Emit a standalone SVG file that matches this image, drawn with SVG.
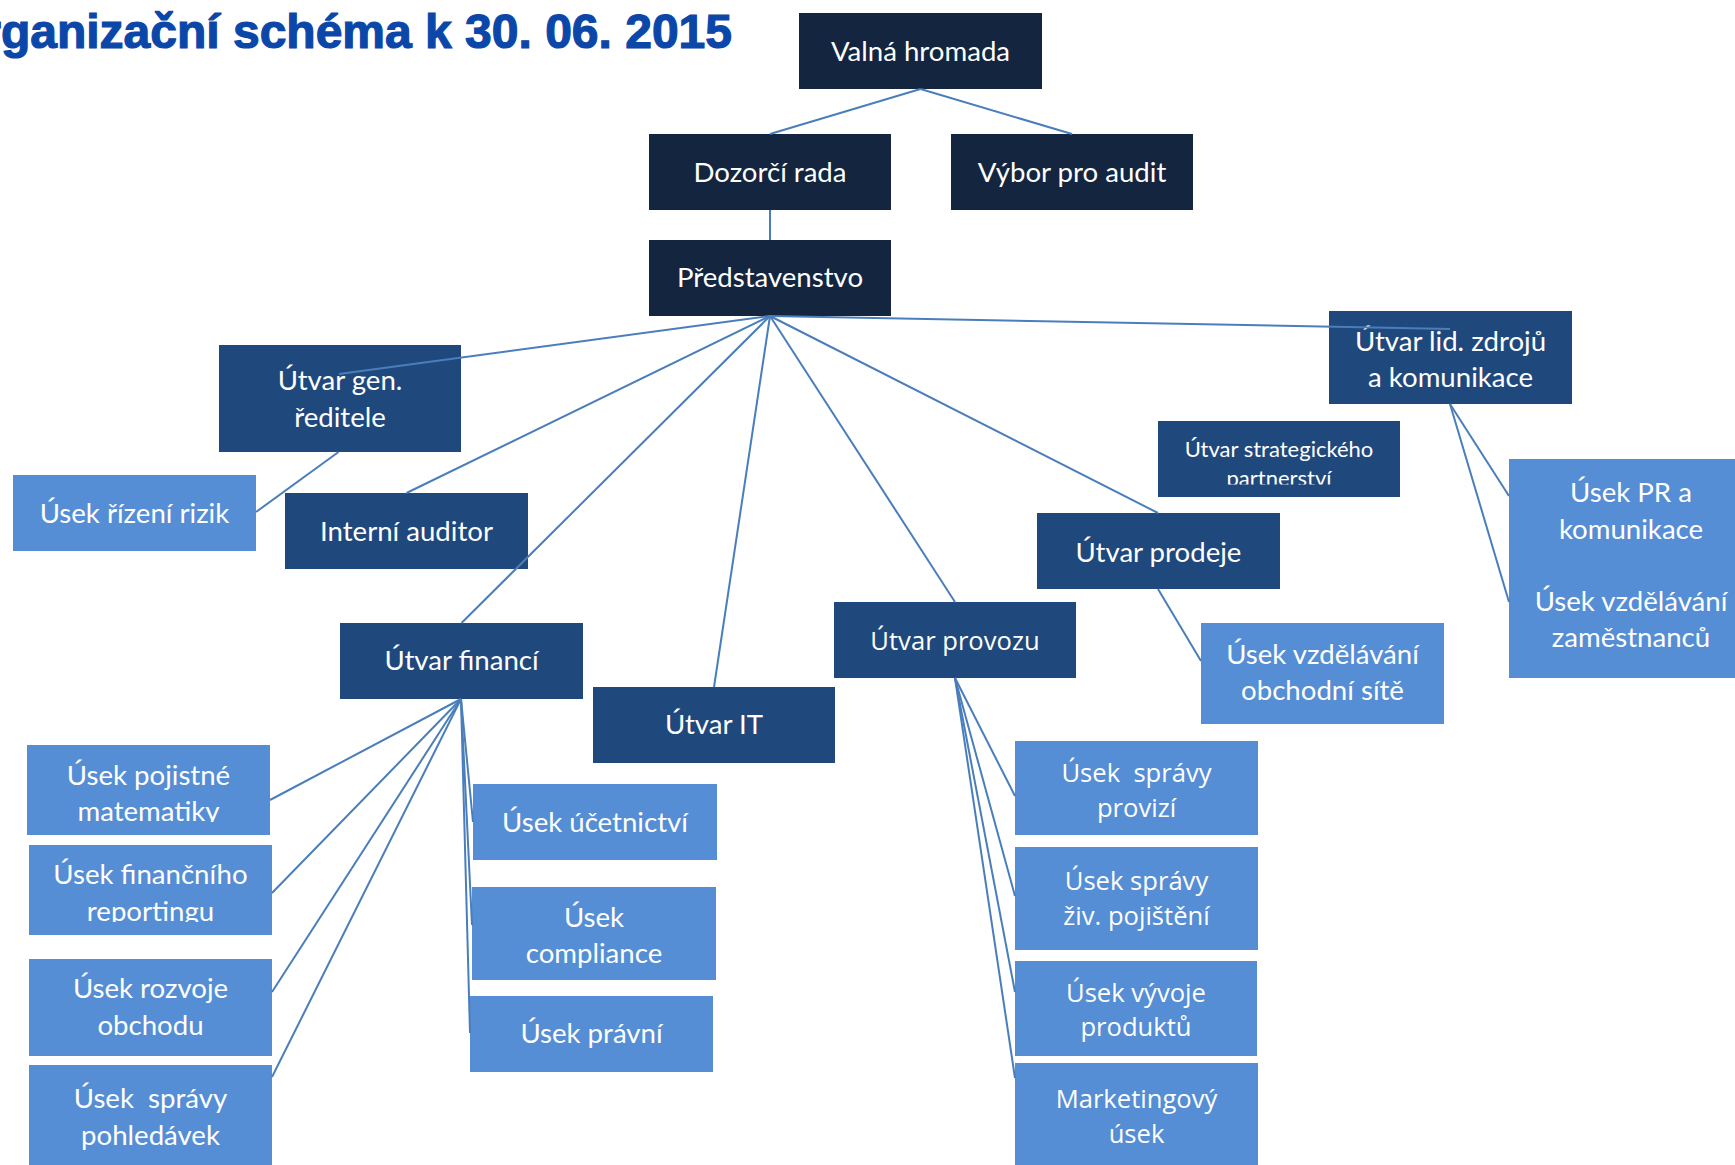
<svg xmlns="http://www.w3.org/2000/svg" width="1735" height="1165" viewBox="0 0 1735 1165">
<style>
.top{fill:#14253f}
.mid{fill:#1f497d}
.lt{fill:#558ed5}
.c{font-family:Lato,"Liberation Sans",sans-serif;font-size:27.6px;fill:#fff;text-anchor:middle}
.s{font-family:"Open Sans","Liberation Sans",sans-serif;font-size:25.6px;fill:#fff;text-anchor:middle}
.c.sm{font-size:22px}
.pre{white-space:pre}
#conn line{stroke:#4a7ebb;stroke-width:2;fill:none}
.title{font-family:"Liberation Sans",Arial,sans-serif;font-weight:bold;font-size:48px;fill:#0b47a9;stroke:#0b47a9;stroke-width:1.2;text-anchor:end}
</style>
<defs>
<clipPath id="clipStrat"><rect x="1158" y="421" width="242" height="63.5"/></clipPath>
<clipPath id="clipPoj"><rect x="27" y="745" width="243" height="77"/></clipPath>
<clipPath id="clipFin"><rect x="29" y="845" width="243" height="77"/></clipPath>
</defs>
<rect width="1735" height="1165" fill="#fff"/>
<text class="title" x="732" y="47.5">Organizační schéma k 30. 06. 2015</text>

<g id="n-valna"><rect class="top" x="799" y="13" width="243" height="76"/><text class="c" x="920.5" y="61">Valná hromada</text></g>
<g id="n-dozorci"><rect class="top" x="649" y="134" width="242" height="76"/><text class="c" x="770" y="182">Dozorčí rada</text></g>
<g id="n-vybor"><rect class="top" x="951" y="134" width="242" height="76"/><text class="c" x="1072" y="182">Výbor pro audit</text></g>
<g id="n-predstavenstvo"><rect class="top" x="649" y="240" width="242" height="76"/><text class="c" x="770" y="287">Představenstvo</text></g>

<g id="n-gen"><rect class="mid" x="219" y="345" width="242" height="107"/><text class="c" x="340" y="390">Útvar gen.</text><text class="c" x="340" y="426.5">ředitele</text></g>
<g id="n-rizeni"><rect class="lt" x="13" y="475" width="243" height="76"/><text class="c" x="134.5" y="522.5">Úsek řízení rizik</text></g>
<g id="n-interni"><rect class="mid" x="285" y="493" width="243" height="76"/><text class="c" x="406.5" y="540.5">Interní auditor</text></g>
<g id="n-lid"><rect class="mid" x="1329" y="311" width="243" height="93"/><text class="c" x="1450.5" y="350.5">Útvar lid. zdrojů</text><text class="c" x="1450.5" y="386.5">a komunikace</text></g>
<g id="n-strat"><rect class="mid" x="1158" y="421" width="242" height="76"/><g clip-path="url(#clipStrat)"><text class="c sm" x="1279" y="457">Útvar strategického</text><text class="c sm" x="1279" y="486">partnerství</text></g></g>
<g id="n-prodeje"><rect class="mid" x="1037" y="513" width="243" height="76"/><text class="c" x="1158.5" y="561.5">Útvar prodeje</text></g>
<g id="n-pr"><rect class="lt" x="1509" y="459" width="226" height="111"/><text class="c" x="1631" y="502">Úsek PR a</text><text class="c" x="1631" y="539">komunikace</text></g>
<g id="n-vzdzam"><rect class="lt" x="1509" y="569" width="226" height="109"/><text class="c" x="1631" y="611">Úsek vzdělávání</text><text class="c" x="1631" y="647">zaměstnanců</text></g>
<g id="n-obchod"><rect class="lt" x="1201" y="623" width="243" height="101"/><text class="c" x="1322.5" y="664">Úsek vzdělávání</text><text class="c" x="1322.5" y="700">obchodní sítě</text></g>
<g id="n-provozu"><rect class="mid" x="834" y="602" width="242" height="76"/><text class="s" x="955" y="650">Útvar provozu</text></g>
<g id="n-financi"><rect class="mid" x="340" y="623" width="243" height="76"/><text class="c" x="461.5" y="669.5">Útvar financí</text></g>
<g id="n-it"><rect class="mid" x="593" y="687" width="242" height="76"/><text class="c" x="714" y="734">Útvar IT</text></g>

<g id="n-pojistne"><rect class="lt" x="27" y="745" width="243" height="90"/><g clip-path="url(#clipPoj)"><text class="c" x="148.5" y="785">Úsek pojistné</text><text class="c" x="148.5" y="821">matematiky</text></g></g>
<g id="n-reporting"><rect class="lt" x="29" y="845" width="243" height="90"/><g clip-path="url(#clipFin)"><text class="c" x="150.5" y="884">Úsek finančního</text><text class="c" x="150.5" y="921">reportingu</text></g></g>
<g id="n-rozvoj"><rect class="lt" x="29" y="959" width="243" height="97"/><text class="c" x="150.5" y="998">Úsek rozvoje</text><text class="c" x="150.5" y="1035">obchodu</text></g>
<g id="n-pohledavky"><rect class="lt" x="29" y="1065" width="243" height="105"/><text class="c pre" x="150.5" y="1108">Úsek  správy</text><text class="c" x="150.5" y="1145">pohledávek</text></g>
<g id="n-ucetnictvi"><rect class="lt" x="473" y="784" width="244" height="76"/><text class="c" x="595" y="831.5">Úsek účetnictví</text></g>
<g id="n-compliance"><rect class="lt" x="472" y="887" width="244" height="93"/><text class="c" x="594" y="926.5">Úsek</text><text class="c" x="594" y="963">compliance</text></g>
<g id="n-pravni"><rect class="lt" x="470" y="996" width="243" height="76"/><text class="c" x="591.5" y="1042.5">Úsek právní</text></g>
<g id="n-provize"><rect class="lt" x="1015" y="741" width="243" height="94"/><text class="s pre" x="1136.5" y="781.5">Úsek  správy</text><text class="s" x="1136.5" y="817">provizí</text></g>
<g id="n-ziv"><rect class="lt" x="1015" y="847" width="243" height="103"/><text class="s" x="1136.5" y="889.5">Úsek správy</text><text class="s" x="1136.5" y="925">živ. pojištění</text></g>
<g id="n-vyvoj"><rect class="lt" x="1015" y="961" width="242" height="95"/><text class="s" x="1136" y="1001.5">Úsek vývoje</text><text class="s" x="1136" y="1036">produktů</text></g>
<g id="n-marketing"><rect class="lt" x="1015" y="1063" width="243" height="107"/><text class="s" x="1136.5" y="1108">Marketingový</text><text class="s" x="1136.5" y="1143">úsek</text></g>

<g id="conn">
<line x1="920.5" y1="89" x2="770" y2="134"/>
<line x1="920.5" y1="89" x2="1072" y2="134"/>
<line x1="770" y1="210" x2="770" y2="240"/>
<line x1="770" y1="316" x2="339" y2="374"/>
<line x1="770" y1="316" x2="406.5" y2="493"/>
<line x1="770" y1="316" x2="461.5" y2="623"/>
<line x1="770" y1="316" x2="714" y2="687"/>
<line x1="770" y1="316" x2="955" y2="602"/>
<line x1="770" y1="316" x2="1158" y2="513"/>
<line x1="770" y1="316" x2="1450" y2="329"/>
<line x1="338.5" y1="452" x2="256" y2="512"/>
<line x1="1158" y1="589" x2="1201" y2="661"/>
<line x1="1450" y1="404" x2="1509" y2="496"/>
<line x1="1450" y1="404" x2="1509" y2="602"/>
<line x1="461" y1="699" x2="270" y2="800"/>
<line x1="461" y1="699" x2="272" y2="893"/>
<line x1="461" y1="699" x2="272" y2="992"/>
<line x1="461" y1="699" x2="272" y2="1077"/>
<line x1="461" y1="699" x2="473" y2="822"/>
<line x1="461" y1="699" x2="472" y2="925"/>
<line x1="461" y1="699" x2="470" y2="1033"/>
<line x1="955" y1="678" x2="1015" y2="796"/>
<line x1="955" y1="678" x2="1015" y2="896"/>
<line x1="955" y1="678" x2="1015" y2="992"/>
<line x1="955" y1="678" x2="1015" y2="1078"/>
</g>
</svg>
